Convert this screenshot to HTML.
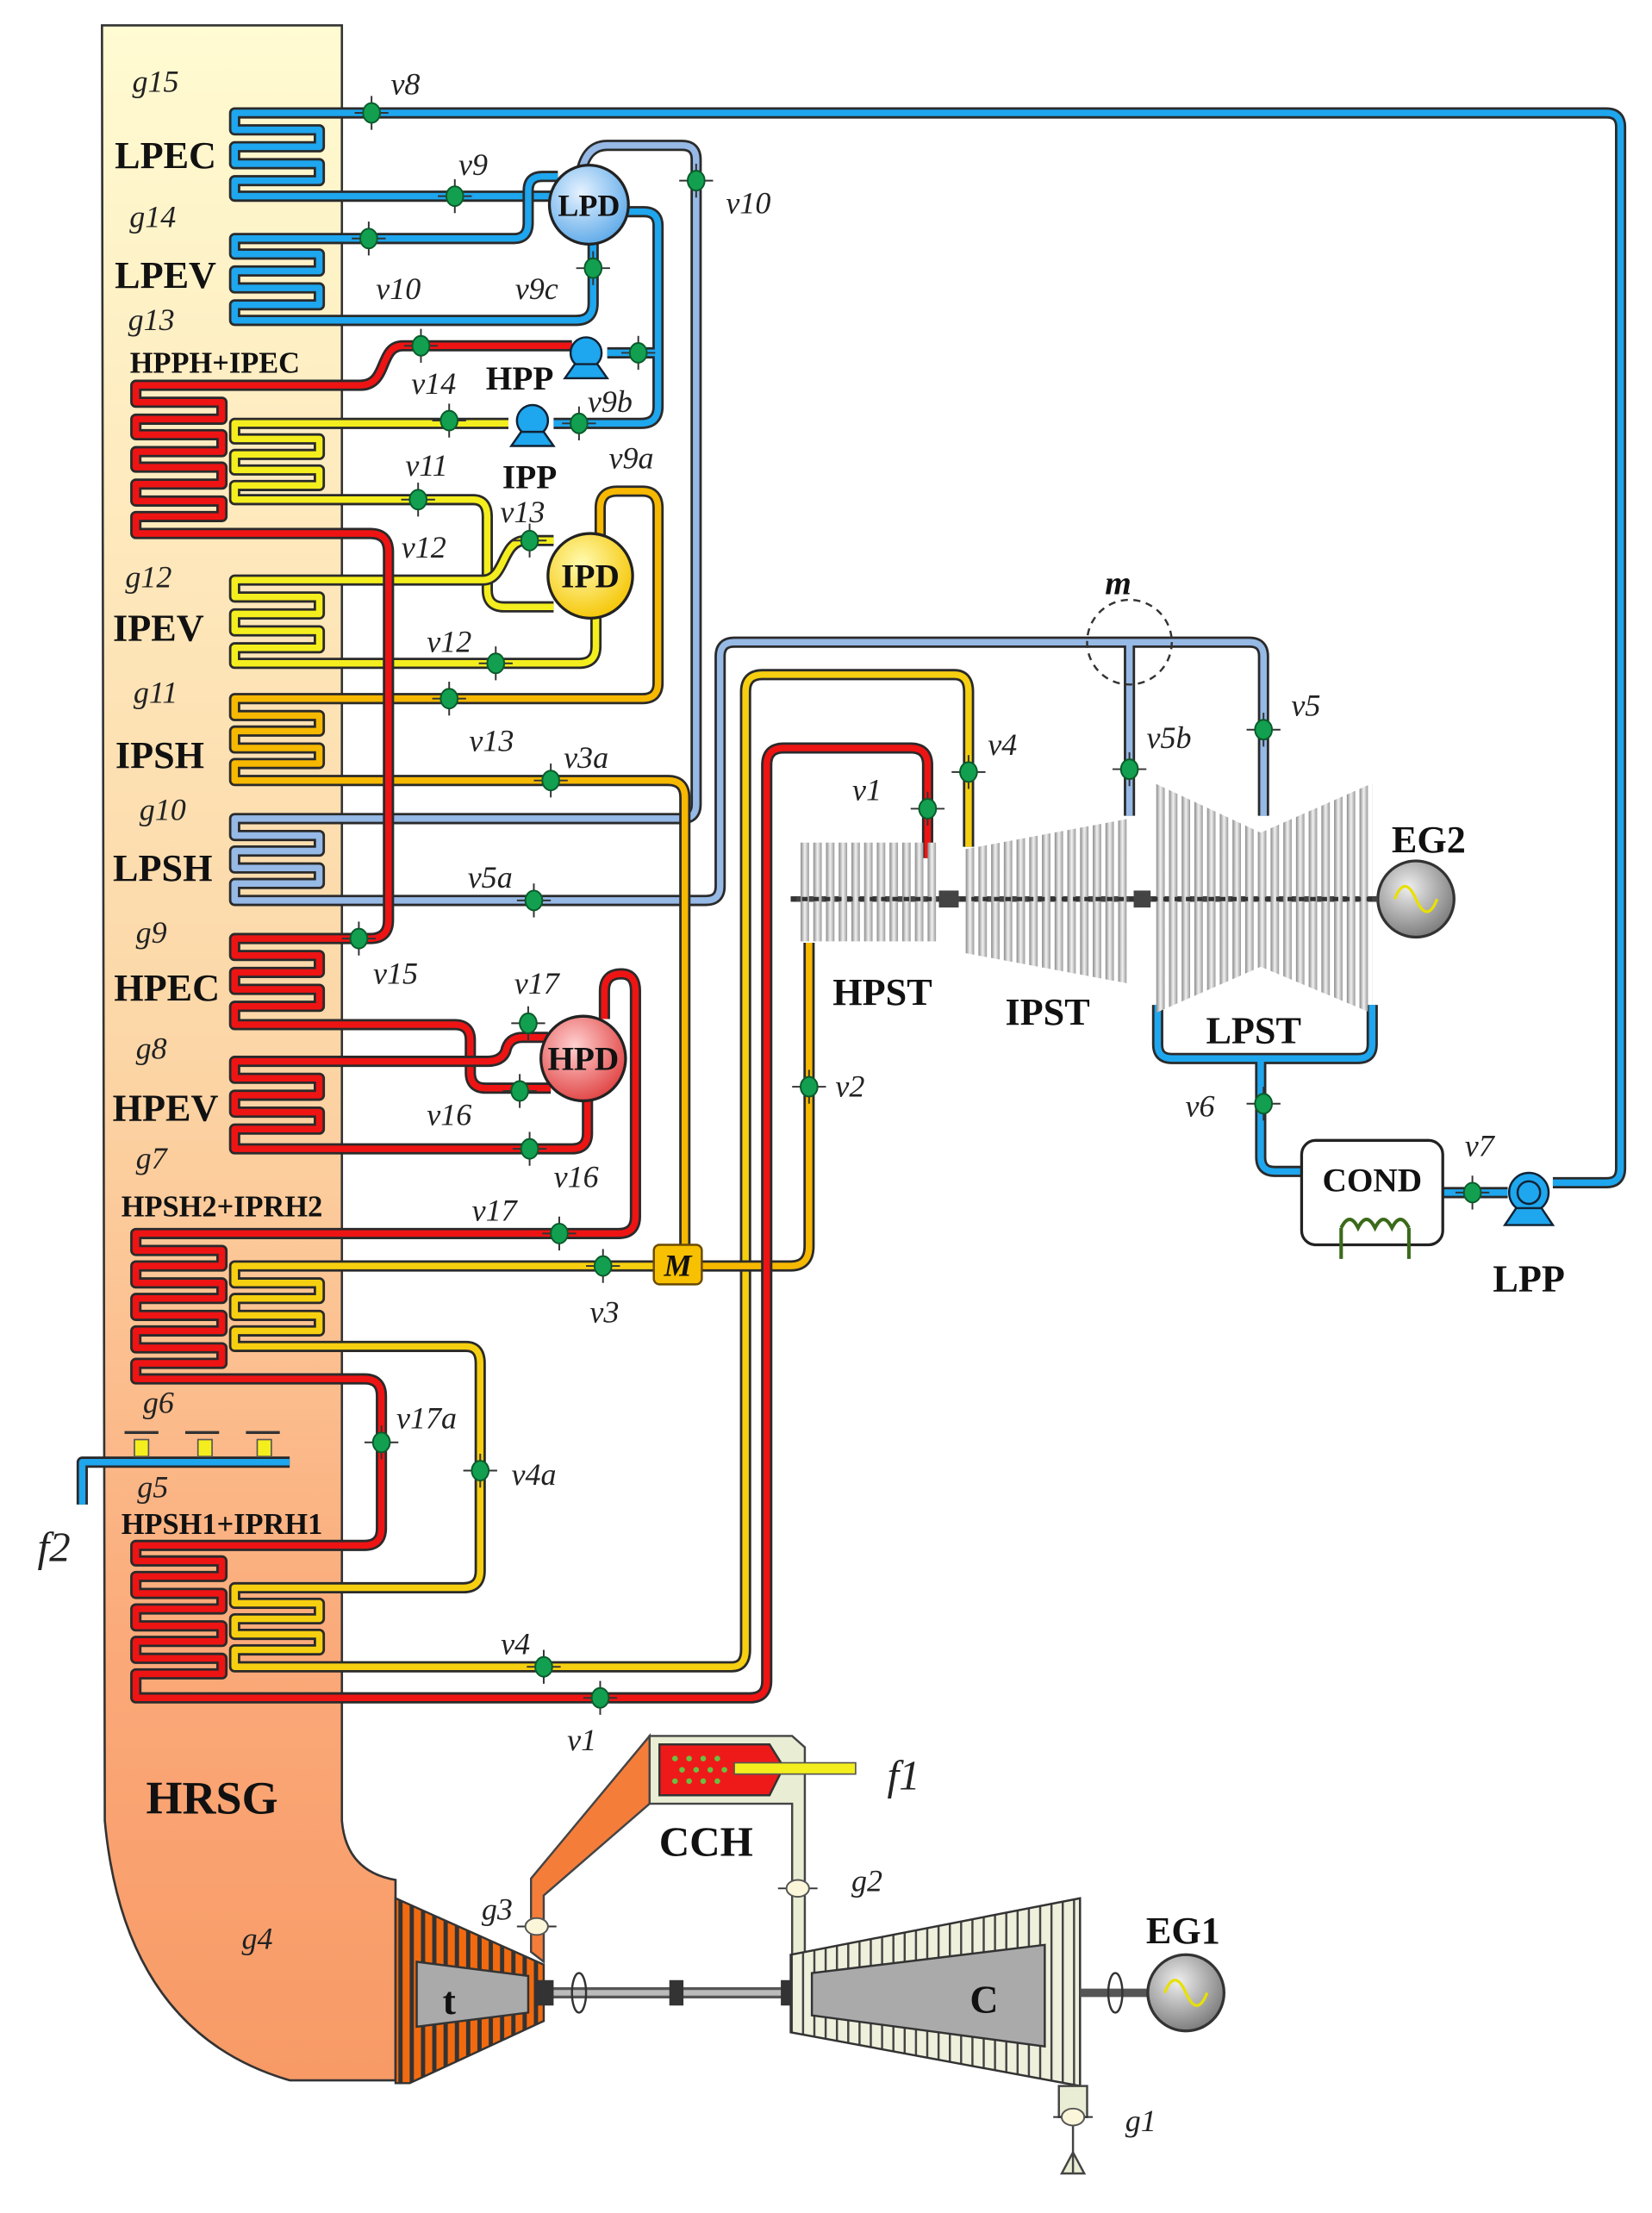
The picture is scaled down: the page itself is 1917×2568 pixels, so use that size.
<!DOCTYPE html>
<html><head><meta charset="utf-8"><style>
html,body{margin:0;padding:0;background:#fff}
svg{display:block}
.o{fill:none;stroke:#2a2a2a;stroke-width:8;stroke-linejoin:round}
.b{fill:none;stroke:#1ea6ee;stroke-width:4.6;stroke-linejoin:round}
.lb{fill:none;stroke:#96b9e6;stroke-width:4.6;stroke-linejoin:round}
.r{fill:none;stroke:#ee1414;stroke-width:4.6;stroke-linejoin:round}
.y{fill:none;stroke:#f4ee1e;stroke-width:4.6;stroke-linejoin:round}
.or{fill:none;stroke:#f7b800;stroke-width:4.6;stroke-linejoin:round}
.oy{fill:none;stroke:#f6cf10;stroke-width:4.6;stroke-linejoin:round}
.L{font-family:"Liberation Serif",serif;font-weight:bold;fill:#111}
.v{font-family:"Liberation Serif",serif;font-style:italic;fill:#222;font-size:22px}
</style></head><body>
<svg width="1917" height="2568" viewBox="0 0 1170 1568" xmlns="http://www.w3.org/2000/svg">
<defs>
<linearGradient id="hr" x1="0" y1="0" x2="0" y2="1">
<stop offset="0" stop-color="#fffbd2"/><stop offset="0.5" stop-color="#fcd6a6"/><stop offset="0.8" stop-color="#fba878"/><stop offset="1" stop-color="#f79a66"/></linearGradient>
<linearGradient id="bl" x1="0" y1="0" x2="0" y2="1"><stop offset="0" stop-color="#777"/><stop offset="0.5" stop-color="#f4f4f4"/><stop offset="1" stop-color="#888"/></linearGradient>
<linearGradient id="bh" x1="0" y1="0" x2="1" y2="0"><stop offset="0" stop-color="#8a8a8a"/><stop offset="0.5" stop-color="#f2f2f2"/><stop offset="1" stop-color="#9a9a9a"/></linearGradient>
<pattern id="bp" width="9" height="10" patternUnits="userSpaceOnUse"><rect x="0" y="0" width="6" height="10" fill="url(#bh)"/></pattern>
<pattern id="cp" width="8" height="10" patternUnits="userSpaceOnUse"><rect width="8" height="10" fill="#eef0dc"/><rect x="0" width="1.5" height="10" fill="#444"/></pattern>
<pattern id="tp" width="8" height="10" patternUnits="userSpaceOnUse"><rect width="8" height="10" fill="#f26a10"/><rect x="2" width="3" height="10" fill="#333"/></pattern>
<radialGradient id="lpd" cx="0.4" cy="0.35" r="0.7"><stop offset="0" stop-color="#e6f2ff"/><stop offset="1" stop-color="#5aa8e8"/></radialGradient>
<radialGradient id="ipd" cx="0.4" cy="0.35" r="0.7"><stop offset="0" stop-color="#fffbb0"/><stop offset="1" stop-color="#f5c400"/></radialGradient>
<radialGradient id="hpd" cx="0.4" cy="0.35" r="0.7"><stop offset="0" stop-color="#ffd0d0"/><stop offset="1" stop-color="#e04040"/></radialGradient>
<radialGradient id="eg" cx="0.4" cy="0.35" r="0.7"><stop offset="0" stop-color="#eee"/><stop offset="1" stop-color="#777"/></radialGradient>
<g id="vv"><line x1="-12" y1="0" x2="12" y2="0" stroke="#333" stroke-width="1.2"/><line x1="0" y1="-12" x2="0" y2="12" stroke="#333" stroke-width="1.2"/><ellipse rx="6" ry="7" fill="#12a050" stroke="#0b5a2a" stroke-width="1.2"/></g>
<g id="gv"><line x1="-14" y1="0" x2="14" y2="0" stroke="#333" stroke-width="1.2"/><ellipse rx="8" ry="6" fill="#fbf6da" stroke="#555" stroke-width="1.2"/></g>
<path id="b1" d="M1100,838 H1138 Q1148,838 1148,828 V90 Q1148,80 1138,80 H166 V92 H226 V104 H166 V116 H226 V128 H166 V139 H392"/>
<path id="b2" d="M395,125 H384 Q374,125 374,135 V158 Q374,169 364,169 H166 V180 H226 V192 H166 V204 H226 V216 H166 V227 H408 Q420,227 420,215 V172"/>
<path id="b3" d="M443,150 H456 Q466,150 466,160 V288 Q466,300 454,300 H392 M466,250 H430"/>
<path id="b4" d="M820,712 V740 Q820,750 830,750 H962 Q972,750 972,740 V712 M893,750 V820 Q893,830 903,830 H925 M1022,845 H1068"/>
<path id="b5" d="M205,1036 H58 V1066"/>
<path id="lb1" d="M412,120 Q416,103 430,103 H483 Q493,103 493,113 V570 Q493,580 483,580 H166 V592 H226 V603 H166 V615 H226 V626 H166 V638 H500 Q510,638 510,628 V465 Q510,455 520,455 H885 Q895,455 895,465 V578 M800,455 V578"/>
<path id="r1" d="M405,245 H285 C268,245 275,273 255,273 H96 V285 H157 V297 H96 V308 H157 V320 H96 V331 H157 V343 H96 V355 H157 V366 H96 V378 H262 Q275,378 275,391 V652 Q275,665 262,665 H166 V677 H226 V689 H166 V701 H226 V713 H166 V726 H322 Q333,726 333,737 V760 Q333,771 344,771 H390"/>
<path id="r2" d="M388,735 H370 Q360,735 358,745 Q355,752 345,752 H166 V764 H226 V776 H166 V788 H226 V800 H166 V814 H405 Q416,814 416,803 V780"/>
<path id="r3" d="M428,722 V702 Q428,690 440,690 Q450,690 450,702 V862 Q450,874 438,874 H96 V886 H157 V897 H96 V909 H157 V920 H96 V932 H157 V943 H96 V955 H157 V966 H96 V977 H258 Q270,977 270,989 V1083 Q270,1095 258,1095 H96 V1106 H157 V1117 H96 V1129 H157 V1140 H96 V1152 H157 V1163 H96 V1175 H157 V1186 H96 V1203 H531 Q543,1203 543,1191 V542 Q543,530 555,530 H645 Q657,530 657,542 V608"/>
<path id="y1" d="M360,300 H166 V311 H226 V322 H166 V333 H226 V344 H166 V354 H335 Q345,354 345,366 V418 Q345,430 357,430 H392"/>
<path id="y2" d="M392,383 H372 C355,383 358,411 342,411 H166 V423 H226 V435 H166 V447 H226 V459 H166 V470 H410 Q422,470 422,458 V438"/>
<path id="o1" d="M425,380 V360 Q425,348 437,348 H455 Q466,348 466,360 V484 Q466,495 455,495 H166 V507 H226 V518 H166 V530 H226 V541 H166 V553 H473 Q485,553 485,565 V883"/>
<path id="o2" d="M463,897 H166 V909 H226 V920 H166 V932 H226 V943 H166 V954 H330 Q340,954 340,966 V1113 Q340,1125 328,1125 H166 V1136 H226 V1147 H166 V1158 H226 V1169 H166 V1181 H518 Q528,1181 528,1169 V490 Q528,478 540,478 H676 Q686,478 686,490 V600"/>
<path id="o3" d="M573,668 V883 Q573,897 560,897 H497"/>
</defs>

<!-- HRSG -->
<path d="M72,18 H242 V1290 Q245,1326 280,1332 V1474 H205 Q88,1440 74,1290 Z" fill="url(#hr)" stroke="#333" stroke-width="1.6"/>

<!-- pipes -->
<g>
<use href="#lb1" class="o"/><use href="#lb1" class="lb"/>
<use href="#b1" class="o"/><use href="#b1" class="b"/>
<use href="#b2" class="o"/><use href="#b2" class="b"/>
<use href="#b3" class="o"/><use href="#b3" class="b"/>
<use href="#b4" class="o"/><use href="#b4" class="b"/>
<use href="#b5" class="o"/><use href="#b5" class="b"/>
<use href="#o1" class="o"/><use href="#o1" class="or"/>
<use href="#o2" class="o"/><use href="#o2" class="oy"/>
<use href="#o3" class="o"/><use href="#o3" class="or"/>
<use href="#y1" class="o"/><use href="#y1" class="y"/>
<use href="#y2" class="o"/><use href="#y2" class="y"/>
<use href="#r1" class="o"/><use href="#r1" class="r"/>
<use href="#r2" class="o"/><use href="#r2" class="r"/>
<use href="#r3" class="o"/><use href="#r3" class="r"/>
</g>

<!-- drums -->
<circle cx="417" cy="145" r="28" fill="url(#lpd)" stroke="#222" stroke-width="2"/>
<circle cx="418" cy="408" r="30" fill="url(#ipd)" stroke="#222" stroke-width="2"/>
<circle cx="413" cy="750" r="30" fill="url(#hpd)" stroke="#222" stroke-width="2"/>
<text class="L" x="417" y="153" font-size="22" text-anchor="middle">LPD</text>
<text class="L" x="418" y="416" font-size="24" text-anchor="middle">IPD</text>
<text class="L" x="413" y="758" font-size="24" text-anchor="middle">HPD</text>

<!-- pumps -->
<g fill="#1ea6ee" stroke="#123" stroke-width="1.5">
<circle cx="415" cy="250" r="11"/><path d="M400,268 L407,258 H423 L430,268 Z"/>
<circle cx="377" cy="298" r="11"/><path d="M362,316 L369,306 H385 L392,316 Z"/>
<circle cx="1083" cy="845" r="14"/><path d="M1066,868 L1074,856 H1092 L1100,868 Z"/>
</g>
<circle cx="1083" cy="845" r="8" fill="none" stroke="#123" stroke-width="1.5"/>

<!-- M mixer -->
<rect x="463" y="882" width="34" height="28" rx="4" fill="#f7c000" stroke="#6a4a00" stroke-width="1.5"/>
<text class="L" x="480" y="904" font-size="22" font-style="italic" text-anchor="middle">M</text>

<!-- COND -->
<rect x="922" y="808" width="100" height="74" rx="10" fill="#fff" stroke="#222" stroke-width="2"/>
<text class="L" x="972" y="844" font-size="24" text-anchor="middle">COND</text>
<path d="M950,870 q6,-12 12,0 q6,-12 12,0 q6,-12 12,0 q6,-12 12,0 M950,870 V892 M998,870 V892" fill="none" stroke="#3a6a1a" stroke-width="2.5"/>

<!-- steam turbines -->
<line x1="560" y1="637" x2="985" y2="637" stroke="#444" stroke-width="4"/>
<rect x="565" y="597" width="98" height="70" fill="url(#bp)"/>
<polygon points="682,602 800,580 800,697 682,675" fill="url(#bp)"/>
<polygon points="818,555 893,590 972,555 972,718 893,685 818,718" fill="url(#bp)"/>
<line x1="560" y1="637" x2="985" y2="637" stroke="#333" stroke-width="3" stroke-dasharray="4,4"/>
<rect x="665" y="631" width="14" height="12" fill="#444"/><rect x="803" y="631" width="12" height="12" fill="#444"/>
<circle cx="1003" cy="637" r="27" fill="url(#eg)" stroke="#333" stroke-width="2"/>
<path d="M988,637 q7,-18 15,0 q8,18 15,0" fill="none" stroke="#e8e000" stroke-width="2"/>
<line x1="972" y1="637" x2="976" y2="637" stroke="#444" stroke-width="4"/>

<!-- m dashed -->
<circle cx="800" cy="455" r="30" fill="none" stroke="#333" stroke-width="1.5" stroke-dasharray="5,4"/>

<!-- gas side -->
<polygon points="460,1230 561,1230 570,1238 570,1392 561,1392 561,1278 460,1278" fill="#e9edd4" stroke="#444" stroke-width="1.5"/>
<polygon points="460,1230 376,1331 376,1383 385,1390 385,1343 460,1278" fill="#f57d3a" stroke="#444" stroke-width="1.5"/>
<polygon points="467,1236 545,1236 555,1252 545,1272 467,1272" fill="#ee1a1a" stroke="#333" stroke-width="1.5"/>
<g fill="#6ac040"><circle cx="478" cy="1246" r="2"/><circle cx="488" cy="1246" r="2"/><circle cx="498" cy="1246" r="2"/><circle cx="508" cy="1246" r="2"/><circle cx="483" cy="1254" r="2"/><circle cx="493" cy="1254" r="2"/><circle cx="503" cy="1254" r="2"/><circle cx="513" cy="1254" r="2"/><circle cx="478" cy="1262" r="2"/><circle cx="488" cy="1262" r="2"/><circle cx="498" cy="1262" r="2"/><circle cx="508" cy="1262" r="2"/></g>
<rect x="520" y="1249" width="86" height="8" fill="#f4ee1e" stroke="#555" stroke-width="1"/>
<!-- gas turbine t -->
<polygon points="280,1345 385,1392 385,1432 290,1476 280,1476" fill="url(#tp)" stroke="#333" stroke-width="1.5"/>
<polygon points="295,1390 374,1400 374,1426 295,1436" fill="#aaa" stroke="#333" stroke-width="1.5"/>
<line x1="385" y1="1412" x2="565" y2="1412" stroke="#555" stroke-width="8"/>
<line x1="385" y1="1412" x2="565" y2="1412" stroke="#bbb" stroke-width="4"/>
<rect x="380" y="1403" width="12" height="18" fill="#333"/><rect x="474" y="1403" width="10" height="18" fill="#333"/><rect x="553" y="1403" width="12" height="18" fill="#333"/>
<ellipse cx="410" cy="1412" rx="5" ry="14" fill="none" stroke="#333" stroke-width="1.5"/>
<!-- compressor -->
<polygon points="560,1385 765,1345 765,1478 560,1440" fill="url(#cp)" stroke="#333" stroke-width="1.5"/>
<polygon points="575,1398 740,1378 740,1450 575,1428" fill="#aaa" stroke="#333" stroke-width="1.5"/>
<polygon points="750,1478 770,1478 770,1500 750,1500" fill="#e9edd4" stroke="#444" stroke-width="1.5"/>
<path d="M760,1500 V1540 M752,1540 L760,1525 L768,1540 Z" fill="#e9edd4" stroke="#444" stroke-width="1.5"/>
<line x1="765" y1="1412" x2="815" y2="1412" stroke="#555" stroke-width="6"/>
<ellipse cx="790" cy="1412" rx="5" ry="14" fill="none" stroke="#333" stroke-width="1.5"/>
<circle cx="840" cy="1412" r="27" fill="url(#eg)" stroke="#333" stroke-width="2"/>
<path d="M825,1412 q7,-18 15,0 q8,18 15,0" fill="none" stroke="#e8e000" stroke-width="2"/>
<use href="#gv" x="565" y="1338"/><use href="#gv" x="380" y="1365"/><use href="#gv" x="760" y="1500"/>

<!-- burners -->
<g fill="#f4ee1e" stroke="#555"><rect x="95" y="1020" width="10" height="12"/><rect x="140" y="1020" width="10" height="12"/><rect x="182" y="1020" width="10" height="12"/></g>
<g stroke="#333" stroke-width="2"><path d="M88,1015 H112 M131,1015 H155 M174,1015 H198"/></g>

<!-- valves -->
<use href="#vv" x="263" y="80"/><use href="#vv" x="322" y="139"/><use href="#vv" x="493" y="128"/><use href="#vv" x="261" y="169"/><use href="#vv" x="420" y="190"/><use href="#vv" x="298" y="245"/><use href="#vv" x="452" y="250"/><use href="#vv" x="318" y="298"/><use href="#vv" x="410" y="300"/><use href="#vv" x="296" y="354"/><use href="#vv" x="375" y="383"/><use href="#vv" x="351" y="470"/><use href="#vv" x="318" y="495"/><use href="#vv" x="390" y="553"/><use href="#vv" x="378" y="638"/><use href="#vv" x="254" y="665"/><use href="#vv" x="374" y="725"/><use href="#vv" x="368" y="773"/><use href="#vv" x="375" y="814"/><use href="#vv" x="396" y="874"/><use href="#vv" x="427" y="897"/><use href="#vv" x="270" y="1022"/><use href="#vv" x="340" y="1042"/><use href="#vv" x="385" y="1181"/><use href="#vv" x="425" y="1203"/><use href="#vv" x="657" y="573"/><use href="#vv" x="686" y="547"/><use href="#vv" x="800" y="545"/><use href="#vv" x="895" y="517"/><use href="#vv" x="573" y="770"/><use href="#vv" x="895" y="782"/><use href="#vv" x="1043" y="845"/>

<!-- section labels -->
<g class="L" font-size="27" text-anchor="middle">
<text x="117" y="119">LPEC</text><text x="117" y="204">LPEV</text><text x="112" y="454">IPEV</text><text x="113" y="544">IPSH</text><text x="115" y="624">LPSH</text><text x="118" y="709">HPEC</text><text x="117" y="794">HPEV</text>
</g>
<g class="L" font-size="21" text-anchor="middle">
<text x="152" y="264">HPPH+IPEC</text><text x="157" y="862">HPSH2+IPRH2</text><text x="157" y="1087">HPSH1+IPRH1</text>
</g>
<g class="L" font-size="27" text-anchor="middle">
<text x="150" y="1285" font-size="33">HRSG</text><text x="500" y="1315" font-size="30">CCH</text><text x="838" y="1377">EG1</text><text x="1012" y="604">EG2</text>
<text x="625" y="712">HPST</text><text x="742" y="726">IPST</text><text x="888" y="739">LPST</text><text x="1083" y="915">LPP</text>
<text x="368" y="276" font-size="24">HPP</text><text x="375" y="346" font-size="24">IPP</text>
<text x="697" y="1426" font-size="28">C</text><text x="318" y="1427" font-size="28">t</text>
<text x="792" y="421" font-size="24" font-style="italic">m</text>
</g>
<g class="v" text-anchor="middle">
<text x="110" y="65">g15</text><text x="108" y="161">g14</text><text x="107" y="234">g13</text><text x="105" y="416">g12</text><text x="110" y="498">g11</text><text x="115" y="581">g10</text><text x="107" y="668">g9</text><text x="107" y="750">g8</text><text x="107" y="828">g7</text><text x="112" y="1001">g6</text><text x="108" y="1061">g5</text><text x="182" y="1381">g4</text><text x="352" y="1360">g3</text><text x="614" y="1340">g2</text><text x="808" y="1510">g1</text>
<text x="38" y="1106" font-size="30">f2</text><text x="640" y="1268" font-size="30">f1</text>
<text x="287" y="67">v8</text><text x="335" y="124">v9</text><text x="530" y="151">v10</text><text x="282" y="212">v10</text><text x="380" y="212">v9c</text><text x="307" y="279">v14</text><text x="432" y="292">v9b</text><text x="302" y="337">v11</text><text x="447" y="332">v9a</text><text x="370" y="370">v13</text><text x="300" y="395">v12</text><text x="318" y="462">v12</text><text x="348" y="532">v13</text><text x="415" y="544">v3a</text><text x="347" y="629">v5a</text><text x="280" y="697">v15</text><text x="380" y="704">v17</text><text x="318" y="797">v16</text><text x="408" y="841">v16</text><text x="350" y="865">v17</text><text x="428" y="937">v3</text><text x="302" y="1012">v17a</text><text x="378" y="1052">v4a</text><text x="365" y="1172">v4</text><text x="412" y="1240">v1</text><text x="614" y="567">v1</text><text x="710" y="535">v4</text><text x="828" y="530">v5b</text><text x="925" y="507">v5</text><text x="602" y="777">v2</text><text x="850" y="791">v6</text><text x="1048" y="819">v7</text>
</g>
</svg>
</body></html>
